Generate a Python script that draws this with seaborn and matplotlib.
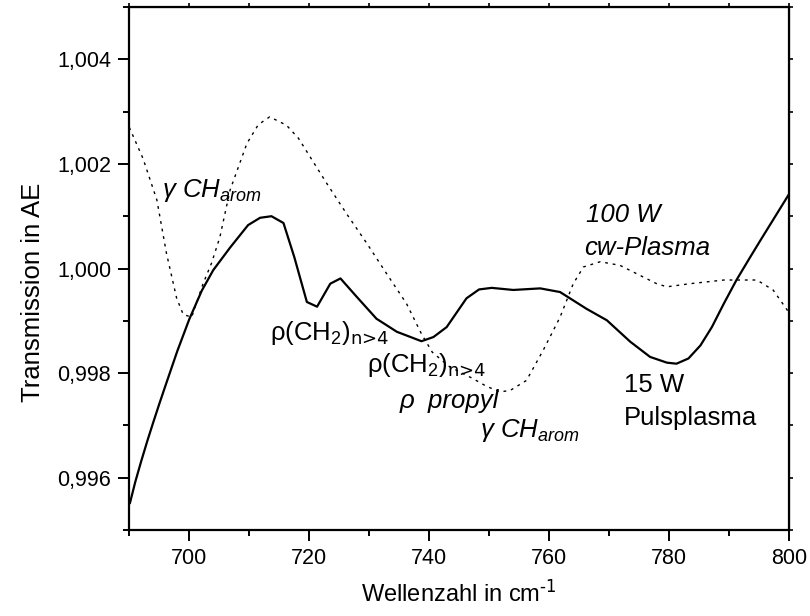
"""
IR transmission spectra: 15 W pulse plasma vs. 100 W cw plasma
"""
import matplotlib
matplotlib.use("Agg")
import matplotlib.pyplot as plt
from matplotlib.ticker import MultipleLocator, FuncFormatter
import pandas as pd
import seaborn as sns

# 15 W Pulsplasma (solid)
wn_puls = [690.1, 691.0, 692.0, 693.0, 694.0, 695.0, 696.0, 698.0, 700.0, 702.1,
           704.0, 706.8, 709.8, 711.8,
           713.7, 715.7, 717.5, 719.6, 721.3, 723.5, 725.2, 727.9, 731.2, 734.6,
           738.7, 740.7, 742.9, 746.2, 748.3, 750.4, 754.0, 758.5, 761.8, 766.2,
           769.6, 773.5, 776.8, 779.6, 781.2, 783.2, 785.2, 787.1, 789.1, 791.2,
           793.5, 795.2, 800.0]
tr_puls = [0.99551, 0.99592, 0.99632, 0.99670, 0.99706, 0.99741, 0.99775, 0.99842, 0.99903, 0.99958,
           0.99997, 1.00040, 1.00083, 1.00097,
           1.00100, 1.00087, 1.00022, 0.99936, 0.99927, 0.99971, 0.99981, 0.99946, 0.99904, 0.99879,
           0.99861, 0.99869, 0.99888, 0.99943, 0.99960, 0.99963, 0.99959, 0.99962, 0.99955, 0.99923,
           0.99901, 0.99860, 0.99831, 0.99820, 0.99818, 0.99828, 0.99853, 0.99888, 0.99933, 0.99978,
           1.00022, 1.00054, 1.00143]

# 100 W cw-Plasma (dotted)
wn_cw = [690.0, 692.3, 694.6, 696.2, 697.9, 699.0, 700.4, 702.3, 703.7, 705.1,
         706.8, 709.6, 711.5, 713.4, 716.2, 718.2, 722.9, 726.2, 729.6, 732.9,
         736.2, 738.7, 740.5, 743.4, 747.2, 749.5, 751.8, 753.5, 756.2, 759.0,
         761.8, 764.0, 765.7, 768.5, 771.8, 775.1, 777.9, 779.6, 783.5, 789.1,
         794.6, 797.3, 800.0]
tr_cw = [1.00270, 1.00210, 1.00131, 1.00029, 0.99943, 0.99912, 0.99907, 0.99971, 1.00010, 1.00060,
         1.00150, 1.00239, 1.00275, 1.00290, 1.00274, 1.00249, 1.00163, 1.00105, 1.00048, 0.99990,
         0.99933, 0.99875, 0.99840, 0.99812, 0.99790, 0.99775, 0.99764, 0.99767, 0.99786, 0.99844,
         0.99907, 0.99971, 1.00003, 1.00013, 1.00006, 0.99987, 0.99971, 0.99965, 0.99971, 0.99978,
         0.99978, 0.99959, 0.99915]

sns.set_style("ticks")
plt.rcParams["font.family"] = ["Liberation Sans", "DejaVu Sans"]
plt.rcParams["mathtext.default"] = "regular"
for key in ["text.color", "axes.labelcolor", "xtick.color", "ytick.color", "axes.edgecolor"]:
    plt.rcParams[key] = "black"

df_puls = pd.DataFrame({"wn": wn_puls, "tr": tr_puls})
df_cw = pd.DataFrame({"wn": wn_cw, "tr": tr_cw})

fig = plt.figure(figsize=(8.1, 6.16), dpi=100)
ax = fig.add_axes([0.1596, 0.1396, 0.8148, 0.849])

sns.lineplot(data=df_puls, x="wn", y="tr", ax=ax, color="black", lw=1.6, sort=False)
sns.lineplot(data=df_cw, x="wn", y="tr", ax=ax, color="black", lw=1.0,
             linestyle=(0, (2, 3.5)), sort=False)

ax.set_xlim(690, 800)
ax.set_ylim(0.995, 1.005)
ax.xaxis.set_major_locator(MultipleLocator(20))
ax.xaxis.set_minor_locator(MultipleLocator(10))
ax.yaxis.set_major_locator(MultipleLocator(0.002))
ax.yaxis.set_minor_locator(MultipleLocator(0.001))
ax.yaxis.set_major_formatter(FuncFormatter(lambda v, p: f"{v:.3f}".replace(".", ",")))

ax.tick_params(which="major", direction="out", length=8, width=1.4, labelsize=15.5, pad=5)
ax.tick_params(which="minor", direction="out", length=4.5, width=1.4)
for s in ax.spines.values():
    s.set_linewidth(1.6)

# short outward ticks on top and right
top = ax.secondary_xaxis("top")
top.xaxis.set_major_locator(MultipleLocator(10))
top.tick_params(direction="out", length=3, width=1.2, labeltop=False)
right = ax.secondary_yaxis("right")
right.yaxis.set_major_locator(MultipleLocator(0.001))
right.tick_params(direction="out", length=3, width=1.2, labelright=False)

ax.set_xlabel(r"Wellenzahl in cm$^{\text{-1}}$", fontsize=17, labelpad=8)
ax.set_ylabel("Transmission in AE", fontsize=18.5)
ax.yaxis.set_label_coords(-0.128, 0.455)

fs = 18.5
sub = r"$_{\text{n>4}}$"
ax.text(695.4, 1.00136, "γ CH$_{arom}$", fontsize=fs, style="italic", va="baseline")
ax.text(713.45, 0.99863, "ρ(CH$_2$)" + sub, fontsize=fs, va="baseline")
ax.text(729.6, 0.99802, "ρ(CH$_2$)" + sub, fontsize=fs, va="baseline")
ax.text(735.1, 0.99733, "ρ  propyl", fontsize=fs, style="italic", va="baseline")
ax.text(748.45, 0.99678, "γ CH$_{arom}$", fontsize=fs, style="italic", va="baseline")
ax.text(766.2, 1.00089, "100 W", fontsize=fs, style="italic", va="baseline")
ax.text(765.8, 1.00025, "cw-Plasma", fontsize=fs, style="italic", va="baseline")
ax.text(772.45, 0.99764, "15 W", fontsize=fs, va="baseline")
ax.text(772.45, 0.99700, "Pulsplasma", fontsize=fs, va="baseline")

fig.savefig("out.png", dpi=100)
